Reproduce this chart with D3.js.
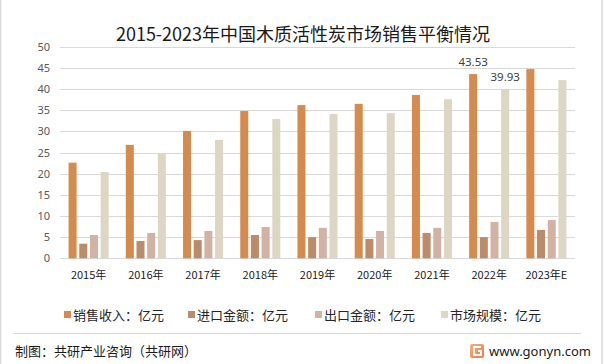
<!DOCTYPE html>
<html>
<head>
<meta charset="utf-8">
<script src="https://cdn.jsdelivr.net/npm/d3@7/dist/d3.min.js"></script>
<style>
  html, body { margin: 0; padding: 0; background: #fff; }
  svg { display: block; font-family: "Noto Sans CJK SC", "Noto Sans", sans-serif; }
</style>
</head>
<body>
<svg id="chart" width="605" height="364"></svg>
<script>
const title = "2015-2023年中国木质活性炭市场销售平衡情况";
const years = ["2015年", "2016年", "2017年", "2018年", "2019年", "2020年", "2021年", "2022年", "2023年E"];
const seriesNames = ["销售收入：亿元", "进口金额：亿元", "出口金额：亿元", "市场规模：亿元"];
const sales   = [22.6, 26.8, 30.1, 34.8, 36.2, 36.5, 38.6, 43.53, 44.7];
const imports = [3.45, 4.1, 4.3, 5.5, 5.0, 4.55, 6.0, 5.0, 6.7];
const exports = [5.5, 6.0, 6.45, 7.4, 7.2, 6.45, 7.2, 8.6, 9.05];
const market  = [20.4, 24.8, 28.0, 32.9, 34.1, 34.3, 37.6, 39.93, 42.1];
const yTicks = [0, 5, 10, 15, 20, 25, 30, 35, 40, 45, 50];
const colors = ["#D58B4E", "#BB8B6A", "#D3B2A6", "#DDD6C5"];
// labelled points: [series index, category index]
const labelled = [[0, 7], [3, 7]];

const seriesValues = [sales, imports, exports, market];
const svg = d3.select("#chart");

// frame
svg.append("rect").attr("x", 0.5).attr("y", -2).attr("width", 601.5).attr("height", 370)
  .attr("fill", "none").attr("stroke", "#d9d9d9").attr("stroke-width", 1.5);

// title
svg.append("text").attr("x", 303).attr("y", 41).attr("text-anchor", "middle")
  .attr("font-size", 18).attr("fill", "#1a1a1a").text(title);

const x0 = d3.scaleBand().domain(years).range([60, 575]).paddingInner(0.3).paddingOuter(0.15);
const x1 = d3.scaleBand().domain(d3.range(4)).range([0, x0.bandwidth()]).paddingInner(0.25).paddingOuter(0);
const y = d3.scaleLinear().domain([0, 50]).range([258.3, 46.7]);

// gridlines
svg.append("g").selectAll("line").data(yTicks).join("line")
  .attr("x1", 60).attr("x2", 575)
  .attr("y1", d => Math.round(y(d)) + 0.5).attr("y2", d => Math.round(y(d)) + 0.5)
  .attr("stroke", "#d9d9d9").attr("stroke-width", 1);

// y axis labels
const yAxis = d3.axisLeft(y).tickValues(yTicks).tickSize(0).tickPadding(0);
const gy = svg.append("g").attr("transform", "translate(50,0)").call(yAxis);
gy.select(".domain").remove();
gy.selectAll("text").attr("font-size", 11).attr("fill", "#595959")
  .attr("font-family", "'Noto Sans', 'Noto Sans CJK SC', sans-serif");

// x axis labels
const xAxis = d3.axisBottom(x0).tickSize(0).tickPadding(0);
const gx = svg.append("g").attr("transform", "translate(0,271)").call(xAxis);
gx.select(".domain").remove();
gx.selectAll("text").attr("font-size", 11).attr("fill", "#1a1a1a")
  .attr("font-family", "'Noto Sans CJK SC', sans-serif");

// bars
const groups = svg.append("g").selectAll("g").data(years).join("g")
  .attr("transform", d => `translate(${x0(d)},0)`);
groups.selectAll("rect")
  .data((d, i) => seriesValues.map((vals, s) => ({ s, v: vals[i] })))
  .join("rect")
  .attr("x", d => x1(d.s))
  .attr("width", x1.bandwidth())
  .attr("y", d => y(d.v))
  .attr("height", d => y(0) - y(d.v))
  .attr("fill", d => colors[d.s]);

// data labels
svg.append("g").selectAll("text").data(labelled).join("text")
  .attr("x", d => x0(years[d[1]]) + x1(d[0]) + x1.bandwidth() / 2)
  .attr("y", d => y(seriesValues[d[0]][d[1]]) - 8)
  .attr("text-anchor", "middle")
  .attr("font-size", 11.5).attr("fill", "#404040")
  .attr("font-family", "'Noto Sans', sans-serif")
  .text(d => seriesValues[d[0]][d[1]].toFixed(2));

// legend
const legendX = [64, 188, 315, 441];
const leg = svg.append("g").selectAll("g").data(seriesNames).join("g")
  .attr("transform", (d, i) => `translate(${legendX[i]},315)`);
leg.append("rect").attr("x", 0).attr("y", -4).attr("width", 7).attr("height", 7)
  .attr("fill", (d, i) => colors[i]);
leg.append("text").attr("x", 9).attr("y", 5).attr("font-size", 13).attr("fill", "#262626").text(d => d);

// divider
svg.append("line").attr("x1", 13).attr("x2", 581).attr("y1", 333.5).attr("y2", 333.5)
  .attr("stroke", "#d9d9d9").attr("stroke-width", 1);

// footer
svg.append("text").attr("x", 15).attr("y", 356).attr("font-size", 13).attr("fill", "#1a1a1a")
  .text("制图：共研产业咨询（共研网）");

const defs = svg.append("defs");
const grad = defs.append("linearGradient").attr("id", "lg").attr("x1", 0).attr("y1", 0).attr("x2", 1).attr("y2", 1);
grad.append("stop").attr("offset", 0).attr("stop-color", "#F7B07A");
grad.append("stop").attr("offset", 1).attr("stop-color", "#EE7A4A");
svg.append("rect").attr("x", 470).attr("y", 344).attr("width", 14).attr("height", 14).attr("rx", 2)
  .attr("fill", "url(#lg)");
svg.append("path").attr("d", "M481,347 L474,347 L474,355 L481,355 L481,351 L478,351")
  .attr("fill", "none").attr("stroke", "#fff").attr("stroke-width", 2);
svg.append("text").attr("x", 489).attr("y", 356).attr("font-size", 13).attr("fill", "#1a1a1a")
  .attr("font-family", "'Noto Sans', sans-serif").text("www.gonyn.com");
</script>
</body>
</html>
